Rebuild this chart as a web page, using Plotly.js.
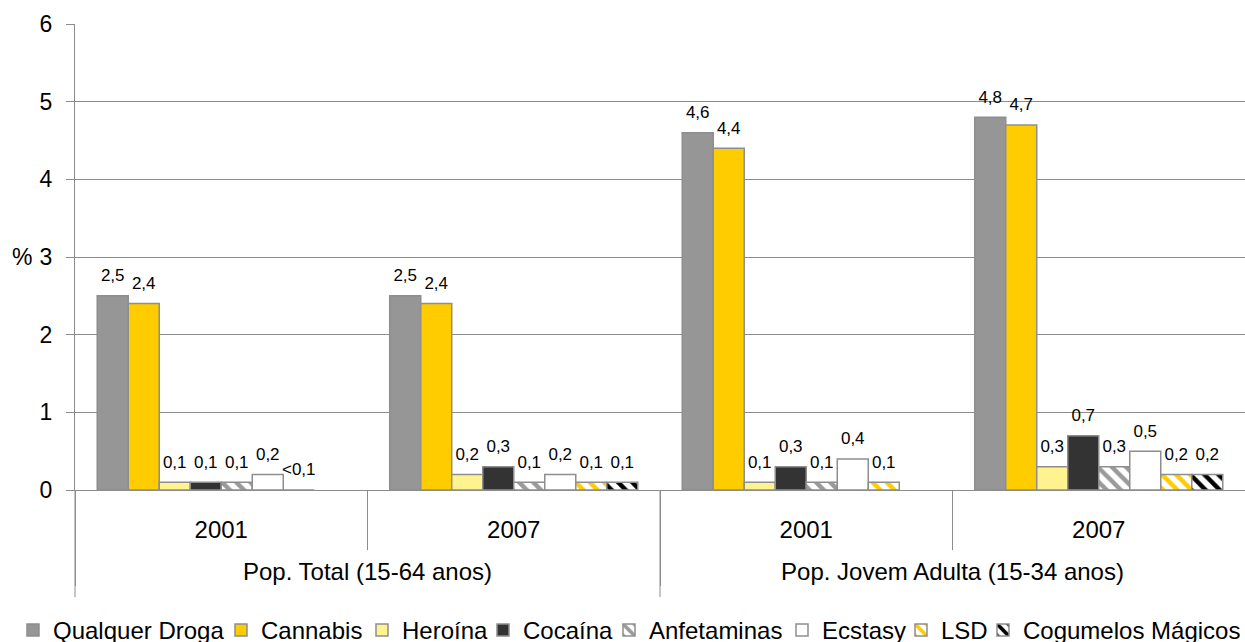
<!DOCTYPE html>
<html>
<head>
<meta charset="utf-8">
<script src="https://cdn.plot.ly/plotly-3.0.1.min.js"></script>
<style>html,body{margin:0;padding:0;background:#fff;}#chart{width:1245px;height:642px;}</style>
</head>
<body>
<div id="chart"></div>
<script>
// ---- data ----
const populations = ['Pop. Total (15-64 anos)', 'Pop. Total (15-64 anos)', 'Pop. Jovem Adulta (15-34 anos)', 'Pop. Jovem Adulta (15-34 anos)'];
const years = ['2001', '2007', '2001', '2007'];
const seriesNames = ['Qualquer Droga', 'Cannabis', 'Heroína', 'Cocaína', 'Anfetaminas', 'Ecstasy', 'LSD', 'Cogumelos Mágicos'];
const qualquerDroga = [2.5, 2.5, 4.6, 4.8];
const cannabis = [2.4, 2.4, 4.4, 4.7];
const heroina = [0.1, 0.2, 0.1, 0.3];
const cocaina = [0.1, 0.3, 0.3, 0.7];
const anfetaminas = [0.1, 0.1, 0.1, 0.3];
const ecstasy = [0.2, 0.2, 0.4, 0.5];
const lsd = [0, 0.1, 0.1, 0.2];
const lsdLabelOverride = ['<0,1', null, null, null];
const cogumelos = [null, 0.1, null, 0.2];

// ---- styles ----
const FONT = 'Liberation Sans, Arial, sans-serif';
const OUTLINE = '#8e8e8e';
const styles = [
  {color: '#969696'},
  {color: '#FFCC00'},
  {color: '#FFF38F'},
  {color: '#333333'},
  {color: '#ffffff', pattern: {shape: '\\', fgcolor: '#9a9a9a', bgcolor: '#ffffff', size: 10, solidity: 0.45}},
  {color: '#ffffff'},
  {color: '#ffffff', pattern: {shape: '\\', fgcolor: '#FFCC00', bgcolor: '#ffffff', size: 10, solidity: 0.45}},
  {color: '#ffffff', pattern: {shape: '\\', fgcolor: '#000000', bgcolor: '#ffffff', size: 10, solidity: 0.45}}
];
const legendWidths = [163, 96, 76, 81, 128, 74, 37, 212];
const seriesValues = [qualquerDroga, cannabis, heroina, cocaina, anfetaminas, ecstasy, lsd, cogumelos];
const overrides = [null, null, null, null, null, null, lsdLabelOverride, null];

function fmt(v) { return (v === null || v === undefined) ? '' : v.toFixed(1).replace('.', ','); }

// second-level tick text is pushed one line lower, as in the reference
const populationTicks = populations.map(p => '<br>' + p);
const xCats = [populationTicks, years];

const barTraces = seriesNames.map((name, i) => {
  const marker = {color: styles[i].color, line: {color: OUTLINE, width: 1.5}};
  if (styles[i].pattern) marker.pattern = styles[i].pattern;
  return {
    type: 'bar',
    name: name,
    x: xCats,
    y: seriesValues[i],
    marker: marker,
    legendwidth: legendWidths[i],
    hoverinfo: 'name+y'
  };
});

// value labels: invisible grouped points with text above, aligned with the bars
const labelTraces = seriesNames.map((name, i) => {
  const vals = seriesValues[i];
  const labels = vals.map((v, j) => (overrides[i] && overrides[i][j]) ? overrides[i][j] : fmt(v));
  return {
    type: 'scatter',
    mode: 'markers+text',
    name: name,
    x: xCats,
    y: vals,
    text: labels,
    textposition: 'top center',
    textfont: {family: FONT, size: 17, color: '#000'},
    marker: {size: 15, color: 'rgba(0,0,0,0)'},
    cliponaxis: false,
    showlegend: false,
    hoverinfo: 'skip'
  };
});

const layout = {
  width: 1245, height: 642,
  margin: {l: 75, r: 0, t: 24, b: 152, autoexpand: false},
  paper_bgcolor: '#fff', plot_bgcolor: '#fff',
  font: {family: FONT, color: '#000'},
  barmode: 'group', bargap: 0.152, bargroupgap: 0,
  scattermode: 'group', scattergap: 0.152,
  showlegend: true,
  legend: {
    orientation: 'h', x: -0.053, xanchor: 'left', y: -0.253, yanchor: 'top',
    font: {family: FONT, size: 24, color: '#000'},
    traceorder: 'normal', itemclick: false, bgcolor: 'rgba(0,0,0,0)'
  },
  xaxis: {
    type: 'multicategory', automargin: false,
    showline: true, linecolor: '#8c8c8c', linewidth: 1,
    ticks: '', showgrid: false, zeroline: false,
    showdividers: true, dividercolor: '#8c8c8c', dividerwidth: 1,
    ticklabelstandoff: 18,
    tickfont: {family: FONT, size: 24, color: '#000'}
  },
  yaxis: {
    range: [0, 6], dtick: 1, automargin: false,
    showline: true, linecolor: '#8c8c8c', linewidth: 1,
    showgrid: true, gridcolor: '#8c8c8c', gridwidth: 1, zeroline: false,
    ticks: 'outside', ticklen: 8, tickcolor: '#8c8c8c', ticklabelstandoff: 9,
    tickfont: {family: FONT, size: 23, color: '#000'}
  },
  annotations: [{
    text: '%', xref: 'paper', yref: 'y', x: -0.0453, y: 3, xanchor: 'center', yanchor: 'middle',
    showarrow: false, font: {family: FONT, size: 23, color: '#000'}
  }],
  shapes: [
    // short dividers between years
    ...[0.25, 0.75].map(px => ({
      type: 'line', xref: 'paper', yref: 'paper', x0: px, x1: px, y0: 0, y1: -0.129,
      line: {color: '#8c8c8c', width: 1}
    })),
    // long dividers between populations
    ...[0, 0.5].map(px => ({
      type: 'line', xref: 'paper', yref: 'paper', x0: px, x1: px, y0: 0, y1: -0.230,
      line: {color: '#8c8c8c', width: 1}
    }))
  ]
};

Plotly.newPlot('chart', barTraces.concat(labelTraces), layout, {displayModeBar: false, staticPlot: true});
</script>
</body>
</html>
